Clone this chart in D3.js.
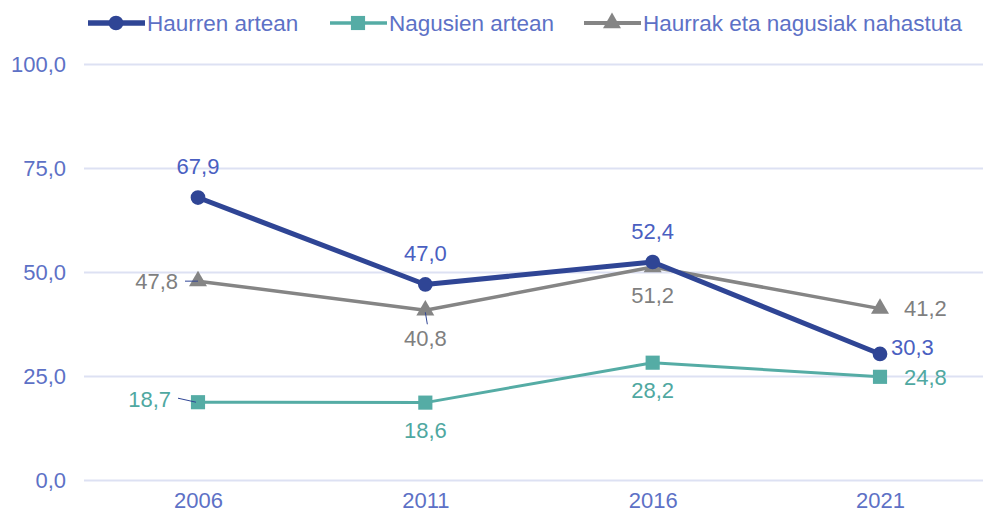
<!DOCTYPE html>
<html>
<head>
<meta charset="utf-8">
<script src="https://cdn.jsdelivr.net/npm/d3@7"></script>
<style>
  body { margin: 0; background: #fff; }
  svg { display: block; font-family: 'Liberation Sans', Arial, sans-serif; }
</style>
</head>
<body>
<script>
const width = 983
const height = 513
const margin = { top: 64, right: 0, bottom: 33, left: 84 }

// data
const years = ['2006', '2011', '2016', '2021']
const haurren = [67.9, 47.0, 52.4, 30.3]
const nagusien = [18.7, 18.6, 28.2, 24.8]
const nahastuta = [47.8, 40.8, 51.2, 41.2]
const yTicks = [0, 25, 50, 75, 100]

// where each value label sits relative to its point
const haurrenPos = ['above', 'above', 'above', 'right']
const nagusienPos = ['left', 'below', 'below', 'right']
const nahastutaPos = ['left', 'below', 'below', 'right']

const fmt = v => d3.format('.1f')(v).replace('.', ',')
const fontSize = '22px'

const series = [
  { name: 'Haurren artean', values: haurren, pos: haurrenPos, color: '#2f4595', text: '#4a5fc1', stroke: 5, marker: 'circle' },
  { name: 'Nagusien artean', values: nagusien, pos: nagusienPos, color: '#55aca5', text: '#4fa8a1', stroke: 3, marker: 'square' },
  { name: 'Haurrak eta nagusiak nahastuta', values: nahastuta, pos: nahastutaPos, color: '#858585', text: '#7f7f7f', stroke: 3.5, marker: 'triangle' }
]

const svg = d3.select('body')
  .append('svg')
  .attr('width', width)
  .attr('height', height)

const x = d3.scalePoint()
  .domain(years)
  .range([198, 880])

const y = d3.scaleLinear()
  .domain([0, 100])
  .range([480, 64])

const axisColor = '#5d71c6'

// gridlines + y labels
const yAxis = d3.axisLeft(y)
  .tickValues(yTicks)
  .tickSize(-(width - margin.left))
  .tickFormat(fmt)

svg.append('g')
  .attr('transform', 'translate(' + margin.left + ',0)')
  .call(yAxis)
  .call(g => g.select('.domain').remove())
  .call(g => g.selectAll('line').attr('stroke', '#dde1f3').attr('stroke-width', 2))
  .call(g => g.selectAll('text')
    .attr('x', -18)
    .attr('fill', axisColor)
    .style('font-size', fontSize)
    .style('font-family', "'Liberation Sans', Arial, sans-serif"))

// x labels
const xAxis = d3.axisBottom(x).tickSize(0)
svg.append('g')
  .attr('transform', 'translate(0,' + 480 + ')')
  .call(xAxis)
  .call(g => g.select('.domain').remove())
  .call(g => g.selectAll('text')
    .attr('dy', '0.71em')
    .attr('y', 12)
    .attr('fill', axisColor)
    .style('font-size', fontSize)
    .style('font-family', "'Liberation Sans', Arial, sans-serif"))

const symbolFor = {
  circle: d3.symbol().type(d3.symbolCircle).size(170),
  square: d3.symbol().type(d3.symbolSquare).size(200),
  triangle: d3.symbol().type(d3.symbolTriangle).size(140)
}

// draw order: teal, gray, blue on top
const order = [series[1], series[2], series[0]]

order.forEach(s => {
  const line = d3.line()
    .x((d, i) => x(years[i]))
    .y(d => y(d))

  svg.append('path')
    .datum(s.values)
    .attr('d', line)
    .attr('fill', 'none')
    .attr('stroke', s.color)
    .attr('stroke-width', s.stroke)
    .attr('stroke-linejoin', 'round')

  svg.append('g')
    .selectAll('path')
    .data(s.values)
    .enter()
    .append('path')
    .attr('d', symbolFor[s.marker])
    .attr('transform', (d, i) => 'translate(' + x(years[i]) + ',' + y(d) + ')')
    .attr('fill', s.color)
})

// leader lines for a few labels
const leaders = [
  { v: nahastuta, i: 0, dx1: -13, dy1: 0, dx2: 0, dy2: 0 },
  { v: nagusien, i: 0, dx1: -20, dy1: -4, dx2: -2, dy2: 0 },
  { v: nahastuta, i: 1, dx1: 2, dy1: 14, dx2: 0, dy2: 2 }
]
leaders.forEach(l => {
  const cx = x(years[l.i])
  const cy = y(l.v[l.i])
  svg.append('line')
    .attr('x1', cx + l.dx1).attr('y1', cy + l.dy1)
    .attr('x2', cx + l.dx2).attr('y2', cy + l.dy2)
    .attr('stroke', '#2f4595')
    .attr('stroke-width', 1)
})

// value labels
series.forEach(s => {
  svg.append('g')
    .selectAll('text')
    .data(s.values)
    .enter()
    .append('text')
    .attr('x', (d, i) => {
      const p = s.pos[i]
      const cx = x(years[i])
      if (p === 'left') return cx - (s.marker === 'square' ? 27 : 20)
      if (p === 'right') return cx + (s.marker === 'circle' ? 11 : 24)
      return cx
    })
    .attr('y', (d, i) => {
      const p = s.pos[i]
      const cy = y(d)
      if (p === 'above') return cy - 31
      if (p === 'below') return cy + 28
      if (p === 'right' && s.marker === 'circle') return cy - 7
      if (p === 'left' && s.marker === 'square') return cy - 3
      return cy
    })
    .attr('dy', '0.35em')
    .attr('text-anchor', (d, i) => {
      const p = s.pos[i]
      if (p === 'left') return 'end'
      if (p === 'right') return 'start'
      return 'middle'
    })
    .attr('fill', s.text)
    .style('font-size', fontSize)
    .text(fmt)
})

// legend
const legendX = [88, 330, 584]
const legend = svg.append('g')
series.forEach((s, i) => {
  const g = legend.append('g').attr('transform', 'translate(' + legendX[i] + ',23)')
  g.append('line')
    .attr('x1', 0).attr('x2', 57)
    .attr('stroke', s.color)
    .attr('stroke-width', s.stroke + 0.5)
  g.append('path')
    .attr('d', symbolFor[s.marker])
    .attr('transform', 'translate(28,0)')
    .attr('fill', s.color)
  g.append('text')
    .attr('x', 59)
    .attr('dy', '0.35em')
    .attr('fill', axisColor)
    .style('font-size', '22.5px')
    .text(s.name)
})
</script>
</body>
</html>
